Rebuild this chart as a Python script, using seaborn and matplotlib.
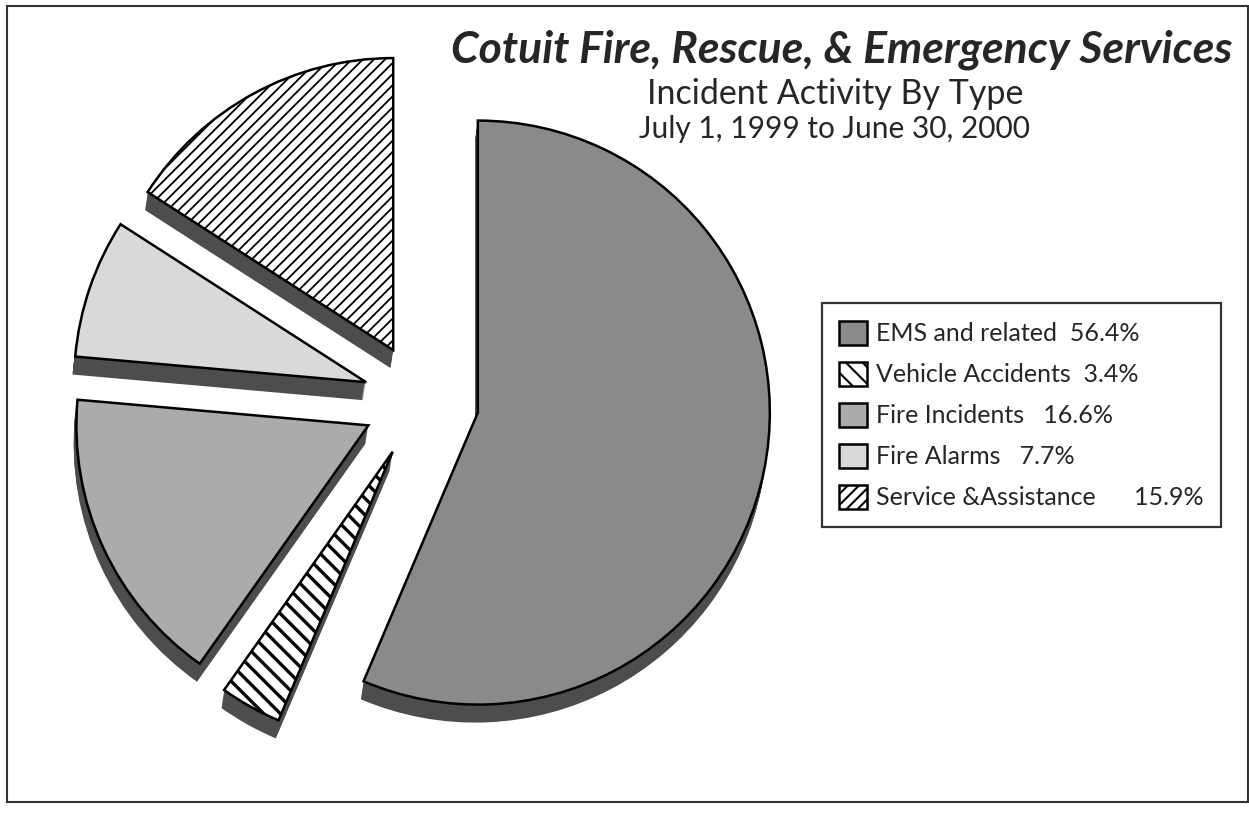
import matplotlib as mpl
import matplotlib.pyplot as plt
import seaborn as sns
from matplotlib.patches import Rectangle

# incident types, July 1 1999 - June 30 2000
categories = ['EMS and related', 'Vehicle Accidents', 'Fire Incidents',
              'Fire Alarms', 'Service &Assistance']
shares = [56.4, 3.4, 16.6, 7.7, 15.9]
label_gaps = [2, 2, 3, 3, 6]

title = 'Cotuit Fire, Rescue, & Emergency Services'
subtitle = 'Incident Activity By Type'
period = 'July 1, 1999 to June 30, 2000'

sns.set_style('white')
plt.rcParams['font.family'] = ['Lato', 'DejaVu Sans']
plt.rcParams['hatch.linewidth'] = 1.5

W, H = 1249, 816
fig = plt.figure(figsize=(W / 100, H / 100), dpi=100)
ax = fig.add_axes([0, 0, 1, 1])

faces = ['#8a8a8a', 'white', '#ababab', '#d9d9d9', 'white']
hatches = [None, '\\\\', None, None, '///']
hatch_lw = [1, 2.4, 1, 1, 1.3]
center = (421, H - 401)
radius = 292
explode = [58] * len(shares)

# extruded "3d" depth under each wedge
for k in range(1, 19):
    ax.pie(shares, radius=radius, center=(center[0] - k * 0.15, center[1] - k),
           explode=explode, startangle=90, counterclock=False,
           colors=['#4d4d4d'] * len(shares),
           wedgeprops=dict(linewidth=0))

wedges, _ = ax.pie(shares, radius=radius, center=center, explode=explode,
                   startangle=90, counterclock=False, colors=faces,
                   wedgeprops=dict(edgecolor='black', linewidth=1.8))
for w, h, lw in zip(wedges, hatches, hatch_lw):
    if h:
        w.set_hatch(h)
        if hasattr(w, 'set_hatch_linewidth'):
            w.set_hatch_linewidth(lw)

ax.set_xlim(0, W)
ax.set_ylim(0, H)
ax.set_axis_off()

labels = [f"{c}{' ' * g}{s:.1f}%" for c, g, s in zip(categories, label_gaps, shares)]
leg = ax.legend(wedges, labels, loc='upper left', bbox_to_anchor=(822, H - 303),
                bbox_transform=ax.transData, borderaxespad=0, fontsize=18,
                fancybox=False, frameon=True, edgecolor='black',
                handlelength=1.1, handleheight=1.1, handletextpad=0.35,
                labelspacing=0.66, borderpad=0.7)
leg.get_frame().set_linewidth(1.6)

ax.text(842, H - 62, title, ha='center', va='baseline', fontsize=32,
        fontweight='bold', style='italic')
ax.text(835, H - 104, subtitle, ha='center', va='baseline', fontsize=24.5)
ax.text(835, H - 138, period, ha='center', va='baseline', fontsize=21.5)

ax.add_patch(Rectangle((7, H - 802), 1241, 796, fill=False,
                       edgecolor='#333333', linewidth=1.5))

fig.savefig('out.png', dpi=100)
